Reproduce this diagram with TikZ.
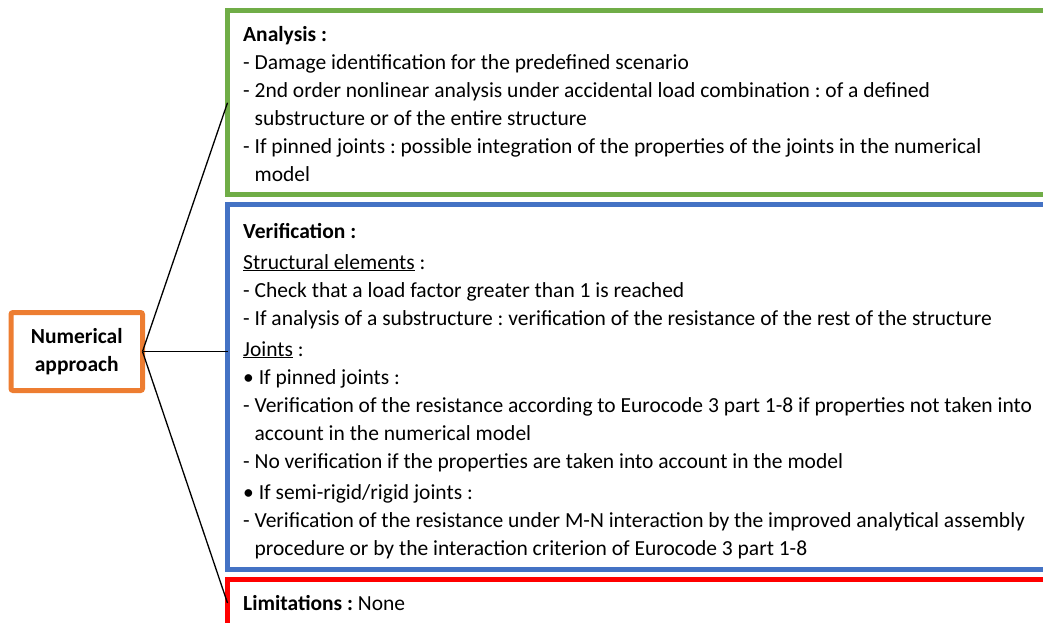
\documentclass[tikz,border=0pt]{standalone}
\usepackage{fontspec}
\setmainfont{Carlito}
\usetikzlibrary{calc}
\definecolor{cgreen}{HTML}{70AD47}
\definecolor{cblue}{HTML}{4472C4}
\definecolor{cred}{HTML}{FF0000}
\definecolor{corange}{HTML}{ED7D31}
\newcommand{\hangsp}{\phantom{- }}
\frenchspacing
\tikzset{ box/.style = { rectangle
                       , draw
                       , line width    = 5pt
                       , anchor        = north west
                       , minimum width = 900pt
                       , inner sep     = 0pt
                       , outer sep     = 0pt
                       },
          txt/.style = { anchor    = base west
                       , align     = left
                       , inner sep = 0pt
                       , font      = \fontsize{21.5}{28}\selectfont
                       },
          root/.style = { rectangle
                        , draw = corange
                        , line width     = 5pt
                        , rounded corners = 2pt
                        , minimum width  = 131.5pt
                        , minimum height = 78pt
                        , inner sep      = 0pt
                        , outer sep      = 0pt
                        , align          = center
                        , font           = \fontsize{21.5}{28}\selectfont\bfseries
                        },
          ln/.style = { draw = black
                      , line width = 1.3pt
                      }
        }

\begin{document}
\begin{tikzpicture}[x=1pt, y=-1pt]
    \useasboundingbox (0,0) rectangle (1043,623);
    \clip (0,0) rectangle (1043,623);
    % left node
    \node[root] (num) at (76.75,351.5) {Numerical\\approach};
    % boxes
    \node[box, draw=cgreen, minimum height=183.5pt] (ana) at (227.5,11) {};
    \node[box, draw=cblue,  minimum height=365pt]   (ver) at (227.5,204) {};
    \node[box, draw=cred,   minimum height=47pt]    (lim) at (227.5,579.5) {};
    % texts (anchored at the baseline of the last line)
    \node[txt] (anatext) at (243,181) {%
        \textbf{Analysis :}\\
        - Damage identification for the predefined scenario\\
        - 2nd order nonlinear analysis under accidental load combination : of a defined\\
        \hangsp substructure or of the entire structure\\
        - If pinned joints : possible integration of the properties of the joints in the numerical\\
        \hangsp model};
    \node[txt] (vertext) at (243,555) {%
        \textbf{Verification :}\\[3pt]
        \underline{Structural elements} :\\
        - Check that a load factor greater than 1 is reached\\
        - If analysis of a substructure : verification of the resistance of the rest of the structure\\[3pt]
        \underline{Joints} :\\
        • If pinned joints :\\
        - Verification of the resistance according to Eurocode 3 part 1-8 if properties not taken into\\
        \hangsp account in the numerical model\\
        - No verification if the properties are taken into account in the model\\[3pt]
        • If semi-rigid/rigid joints :\\
        - Verification of the resistance under M-N interaction by the improved analytical assembly\\
        \hangsp procedure or by the interaction criterion of Eurocode 3 part 1-8};
    \node[txt] (limtext) at (243,610) {\textbf{Limitations :} None};
    % connectors
    \path[ln] (num.east) -- (ana.west);
    \path[ln] (num.east) -- (num.east -| ver.west);
    \path[ln] (num.east) -- (lim.west);
\end{tikzpicture}
\end{document}
